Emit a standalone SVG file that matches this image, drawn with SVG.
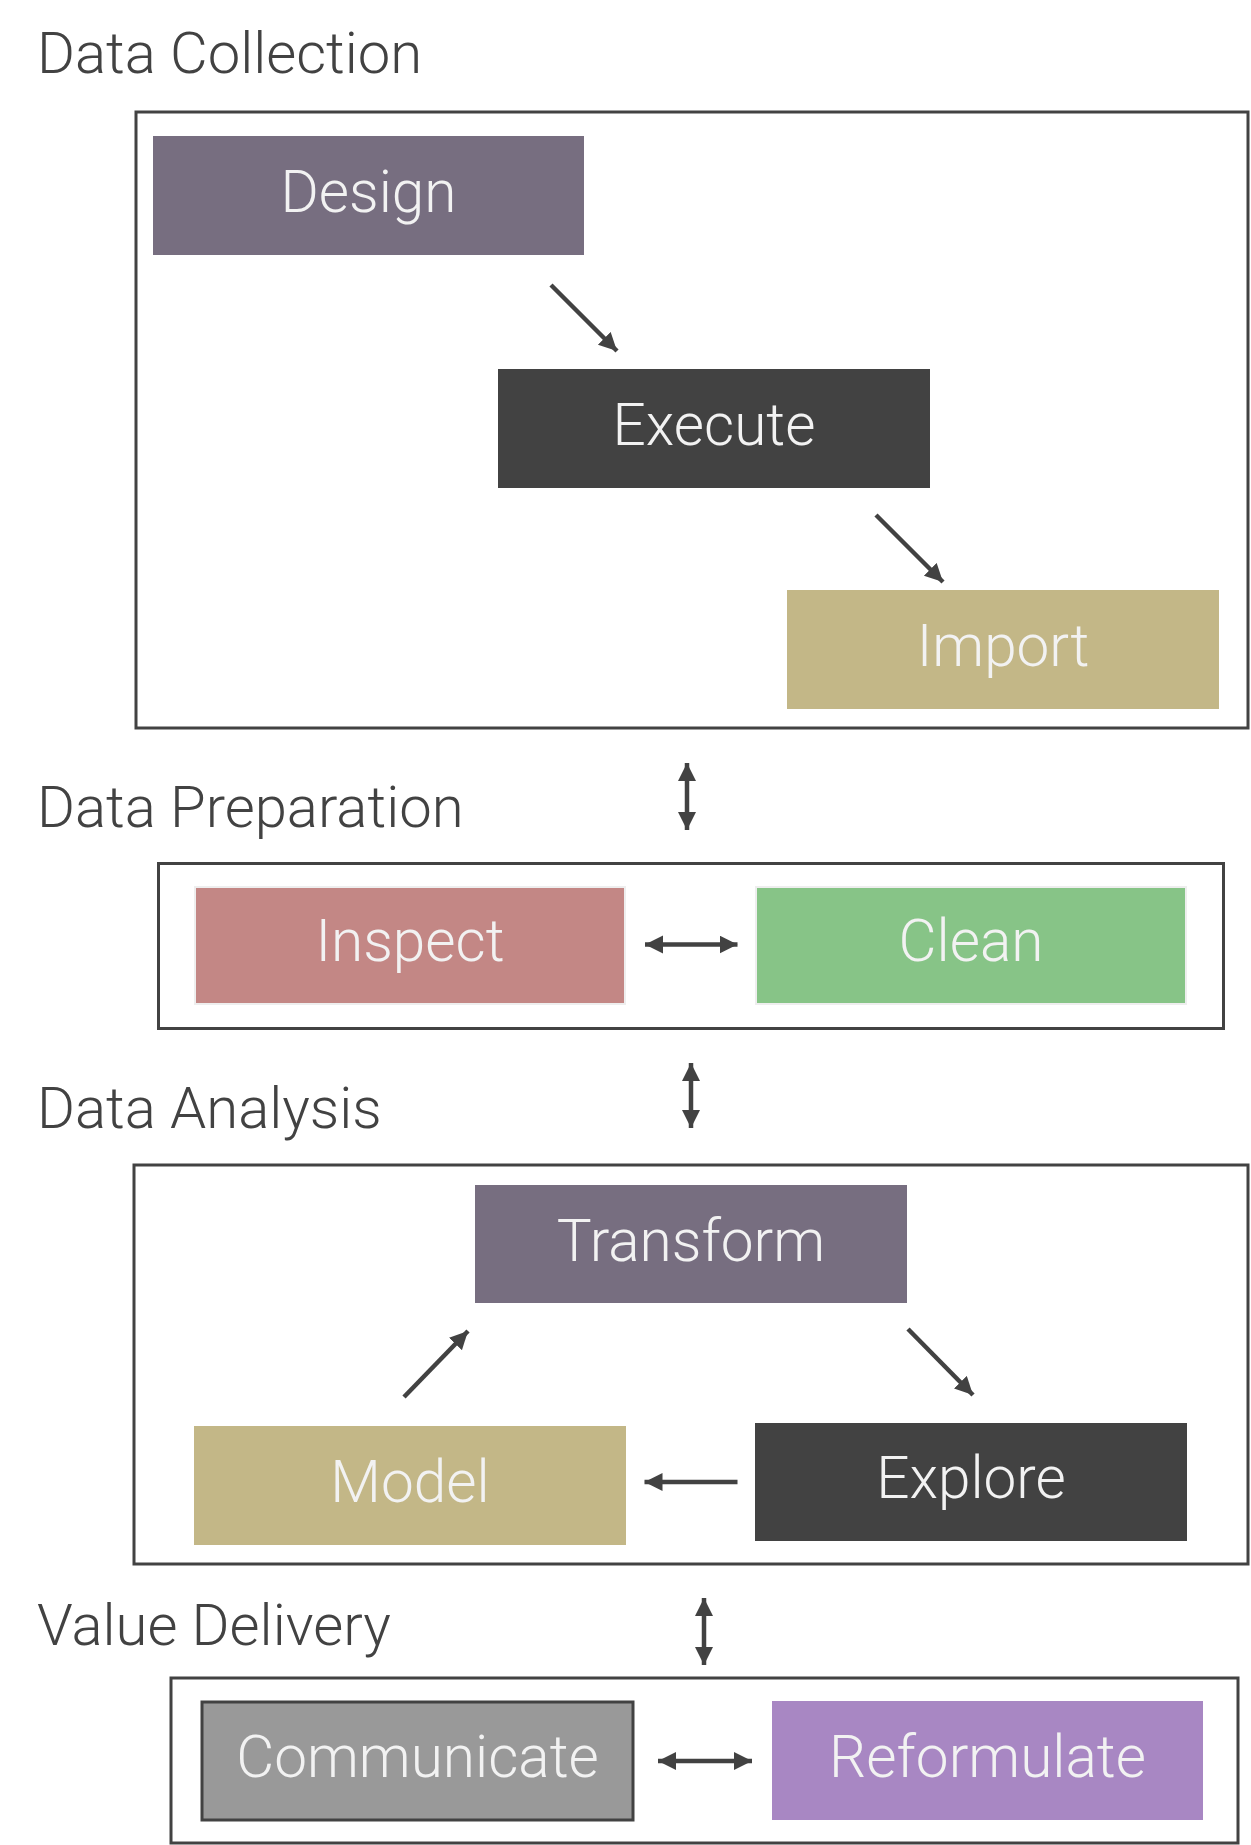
<svg xmlns="http://www.w3.org/2000/svg" width="1251" height="1845" viewBox="0 0 1251 1845">
<style>
.lbl{font-family:Roboto,"Liberation Sans",sans-serif;font-weight:300;font-size:58px;fill:#424242}
.nt{font-family:Roboto,"Liberation Sans",sans-serif;font-weight:300;font-size:58.5px;fill:#f2f2f2;text-anchor:middle}
.grp{fill:none;stroke:#424242;stroke-width:3}
.edge{stroke:#424242;stroke-width:4.5;fill:none}
</style>
<defs>
<marker id="ah" markerUnits="userSpaceOnUse" markerWidth="19" markerHeight="19" refX="18" refY="9" orient="auto-start-reverse">
<path d="M0,0 L18,9 L0,18 z" fill="#424242"/>
</marker>
</defs>
<rect width="1251" height="1845" fill="#ffffff"/>

<g id="group-collection">
<text class="lbl" x="37" y="73">Data Collection</text>
<rect class="grp" x="136" y="112" width="1112" height="616"/>
</g>
<g id="group-preparation">
<text class="lbl" x="37" y="827">Data Preparation</text>
<rect class="grp" x="158.5" y="863.5" width="1065" height="165"/>
</g>
<g id="group-analysis">
<text class="lbl" x="37" y="1128">Data Analysis</text>
<rect class="grp" x="134" y="1165" width="1114" height="399"/>
</g>
<g id="group-delivery">
<text class="lbl" x="37" y="1645">Value Delivery</text>
<rect class="grp" x="171" y="1678" width="1067" height="165"/>
</g>

<g id="node-design">
<rect x="153" y="136" width="431" height="119" fill="#776e80"/>
<text class="nt" x="368.5" y="212">Design</text>
</g>
<g id="node-execute">
<rect x="498" y="369" width="432" height="119" fill="#424242"/>
<text class="nt" x="714" y="445">Execute</text>
</g>
<g id="node-import">
<rect x="787" y="590" width="432" height="119" fill="#c3b787"/>
<text class="nt" x="1003" y="666">Import</text>
</g>
<g id="node-inspect">
<rect x="195" y="887" width="430" height="117" fill="#c38785" stroke="#eeeeee" stroke-width="2"/>
<text class="nt" x="410" y="961">Inspect</text>
</g>
<g id="node-clean">
<rect x="756" y="887" width="430" height="117" fill="#87c487" stroke="#eeeeee" stroke-width="2"/>
<text class="nt" x="971" y="961">Clean</text>
</g>
<g id="node-transform">
<rect x="475" y="1185" width="432" height="118" fill="#776e80"/>
<text class="nt" x="691" y="1261">Transform</text>
</g>
<g id="node-model">
<rect x="194" y="1426" width="432" height="119" fill="#c3b787"/>
<text class="nt" x="410" y="1502">Model</text>
</g>
<g id="node-explore">
<rect x="755" y="1423" width="432" height="118" fill="#424242"/>
<text class="nt" x="971" y="1498">Explore</text>
</g>
<g id="node-communicate">
<rect x="202" y="1702" width="431" height="118" fill="#999999" stroke="#424242" stroke-width="3"/>
<text class="nt" x="417.5" y="1777">Communicate</text>
</g>
<g id="node-reformulate">
<rect x="772" y="1701" width="431" height="119" fill="#a887c3"/>
<text class="nt" x="987.5" y="1777">Reformulate</text>
</g>

<g id="connectors">
<line class="edge" x1="551" y1="285" x2="617" y2="351" marker-end="url(#ah)"/>
<line class="edge" x1="876" y1="515" x2="943" y2="582" marker-end="url(#ah)"/>
<line class="edge" x1="687" y1="763" x2="687" y2="830" marker-start="url(#ah)" marker-end="url(#ah)"/>
<line class="edge" x1="645" y1="944.5" x2="737.5" y2="944.5" marker-start="url(#ah)" marker-end="url(#ah)"/>
<line class="edge" x1="691" y1="1063" x2="691" y2="1128" marker-start="url(#ah)" marker-end="url(#ah)"/>
<line class="edge" x1="908" y1="1329" x2="973" y2="1395" marker-end="url(#ah)"/>
<line class="edge" x1="737.5" y1="1482" x2="644.5" y2="1482" marker-end="url(#ah)"/>
<line class="edge" x1="404" y1="1397" x2="468" y2="1331" marker-end="url(#ah)"/>
<line class="edge" x1="704" y1="1598" x2="704" y2="1665" marker-start="url(#ah)" marker-end="url(#ah)"/>
<line class="edge" x1="658" y1="1761" x2="752" y2="1761" marker-start="url(#ah)" marker-end="url(#ah)"/>
</g>
</svg>
